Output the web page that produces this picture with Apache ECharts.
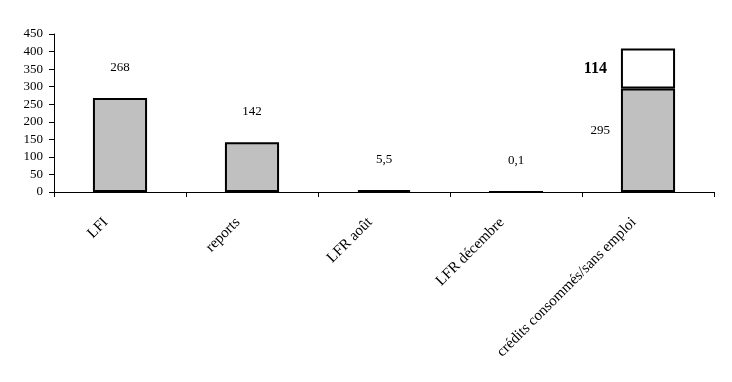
<!DOCTYPE html>
<html><head><meta charset="utf-8">
<script src="https://cdn.jsdelivr.net/npm/echarts@6/dist/echarts.min.js"></script>
<style>html,body{margin:0;padding:0;background:#fff}#c{width:732px;height:382px}</style>
</head><body><div id="c"></div>
<script>
const categories = ['LFI', 'reports', 'LFR août', 'LFR décembre', 'crédits consommés/sans emploi'];
const baseValues = [268, 142, 5.5, 0.1, 295];
const topValues = [null, null, null, null, 114];
const yTicks = [0, 50, 100, 150, 200, 250, 300, 350, 400, 450];

const fmt = p => String(p.value).replace('.', ',');
const font = 'Liberation Serif, Times New Roman, serif';

const chart = echarts.init(document.getElementById('c'));
chart.setOption({
  animation: false,
  grid: {left: 54, right: 18, top: 34, bottom: 190, containLabel: false},
  xAxis: {
    type: 'category', data: categories,
    axisLine: {lineStyle: {color: '#000', width: 1}},
    axisTick: {show: true, alignWithLabel: false, length: 5, lineStyle: {color: '#000'}},
    axisLabel: {rotate: 45, color: '#000', fontFamily: font, fontSize: 15, interval: 0, margin: 14, padding: [0, 20, 0, 0]}
  },
  yAxis: {
    type: 'value', min: yTicks[0], max: yTicks[yTicks.length - 1], interval: 50,
    axisLine: {show: true, lineStyle: {color: '#000'}},
    axisTick: {show: true, length: 5, lineStyle: {color: '#000'}},
    splitLine: {show: false},
    axisLabel: {color: '#000', fontFamily: font, fontSize: 13, margin: 11}
  },
  series: [
    {
      type: 'bar', stack: 'a', data: baseValues.map((v, i) => i === 4 ? {
        value: v, label: {position: 'left', distance: 11, offset: [0, -10]}
      } : v),
      barWidth: '41%',
      itemStyle: {color: '#C0C0C0', borderColor: '#000', borderWidth: 2},
      label: {show: true, position: 'top', distance: 24, color: '#000', fontFamily: font, fontSize: 13, formatter: fmt}
    },
    {
      type: 'bar', stack: 'a', data: topValues,
      barWidth: '41%',
      itemStyle: {color: '#FFFFFF', borderColor: '#000', borderWidth: 2},
      label: {show: true, position: 'left', distance: 14, color: '#000', fontFamily: font, fontSize: 16, fontWeight: 'bold', formatter: fmt}
    }
  ]
});
</script></body></html>
